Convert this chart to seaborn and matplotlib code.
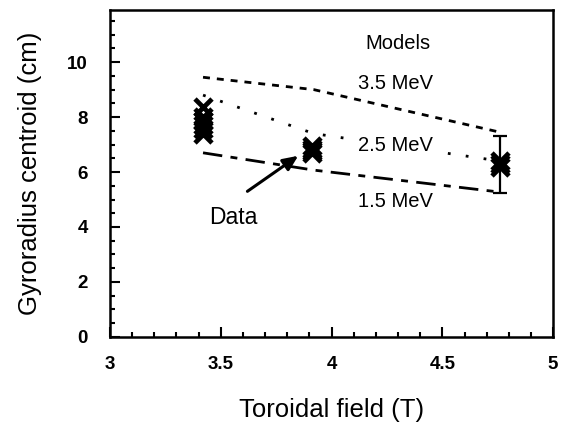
import matplotlib
matplotlib.use("Agg")
import matplotlib.pyplot as plt
import seaborn as sns
import pandas as pd
from matplotlib.ticker import MultipleLocator

sns.set_style("ticks")
plt.rcParams["font.family"] = ["Liberation Sans", "DejaVu Sans"]
plt.rcParams["text.color"] = "black"
plt.rcParams["axes.labelcolor"] = "black"
plt.rcParams["xtick.color"] = "black"
plt.rcParams["ytick.color"] = "black"

# Model curves: gyroradius centroid vs toroidal field for three energies
model_field = [3.42, 3.92, 4.76]
model_35 = [9.45, 9.0, 7.45]
model_25 = [8.8, 7.4, 6.4]
model_15 = [6.7, 6.07, 5.27]

# Measured centroids (several shots per field value)
data_field = [3.42, 3.42, 3.42, 3.42, 3.42, 3.42,
              3.91, 3.91, 3.91, 3.91,
              4.76, 4.76, 4.76]
data_centroid = [8.35, 8.0, 7.85, 7.7, 7.55, 7.4,
                 6.95, 6.85, 6.75, 6.7,
                 6.4, 6.3, 6.2]

# Error bar on the high-field point
err_field = [4.76]
err_center = [6.3]
err_low = [1.05]
err_high = [1.0]

models = pd.DataFrame({
    "field": model_field * 3,
    "centroid": model_35 + model_25 + model_15,
    "model": ["3.5 MeV"] * 3 + ["2.5 MeV"] * 3 + ["1.5 MeV"] * 3,
})
data = pd.DataFrame({"field": data_field, "centroid": data_centroid})

fig = plt.figure(figsize=(5.61, 4.33), dpi=100)
ax = fig.add_axes([0.196, 0.222, 0.790, 0.755])

sns.lineplot(data=models, x="field", y="centroid", style="model",
             dashes={"3.5 MeV": (2.5, 2.5), "2.5 MeV": (1, 5.5),
                     "1.5 MeV": (7, 3, 2.5, 3)},
             color="black", linewidth=2.0, legend=False, ax=ax)

ax.errorbar(err_field, err_center, yerr=[err_low, err_high], fmt="none",
            ecolor="black", elinewidth=1.6, capsize=5, capthick=1.6)

sns.scatterplot(data=data, x="field", y="centroid", marker="x", s=150,
                color="black", linewidth=3.4, ax=ax, zorder=5)

ax.set_xlim(3, 5)
ax.set_ylim(0, 11.9)
ax.xaxis.set_major_locator(MultipleLocator(0.5))
ax.xaxis.set_minor_locator(MultipleLocator(0.1))
ax.yaxis.set_major_locator(MultipleLocator(2))
ax.yaxis.set_minor_locator(MultipleLocator(0.5))
ax.set_xticks([3, 3.5, 4, 4.5, 5])
ax.set_xticklabels(["3", "3.5", "4", "4.5", "5"])
ax.tick_params(which="major", direction="in", length=7, width=1.5,
               labelsize=13.5, pad=14)
ax.tick_params(which="minor", direction="in", length=3.5, width=1.5)
ax.tick_params(axis="y", pad=16)
for lbl in ax.get_xticklabels() + ax.get_yticklabels():
    lbl.set_fontweight("bold")
for sp in ax.spines.values():
    sp.set_linewidth(1.8)
    sp.set_color("black")

ax.set_xlabel("Toroidal field (T)", fontsize=18.5, labelpad=18)
ax.set_ylabel("Gyroradius centroid (cm)", fontsize=18.5, labelpad=18)

box = dict(facecolor="white", edgecolor="none", pad=1)
ax.text(4.30, 10.69, "Models", fontsize=14.5, ha="center", va="center")
ax.text(4.29, 9.24, "3.5 MeV", fontsize=14.5, ha="center", va="center",
        bbox=box, zorder=4)
ax.text(4.29, 6.98, "2.5 MeV", fontsize=14.5, ha="center", va="center",
        bbox=box, zorder=4)
ax.text(4.29, 4.91, "1.5 MeV", fontsize=14.5, ha="center", va="center",
        bbox=box, zorder=4)
ax.text(3.555, 4.33, "Data", fontsize=16.5, ha="center", va="center")
ax.annotate("", xy=(3.86, 6.65), xytext=(3.61, 5.24),
            arrowprops=dict(arrowstyle="-|>,head_length=0.9,head_width=0.4",
                            color="black", lw=2.2))

fig.savefig("out.png", dpi=100)
